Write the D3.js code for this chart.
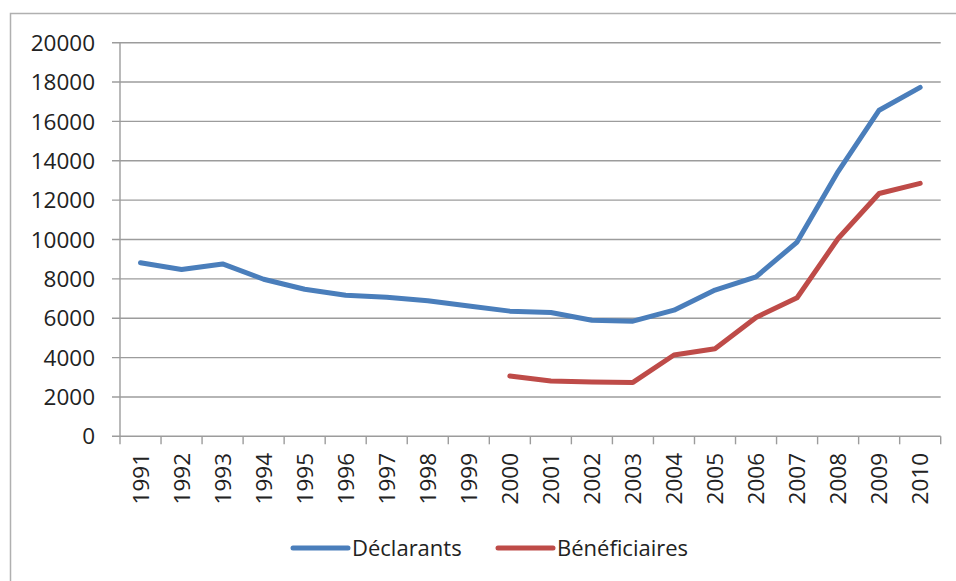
<!DOCTYPE html>
<html>
<head>
<meta charset="utf-8">
<script src="https://cdn.jsdelivr.net/npm/d3@7"></script>
<style>
  html, body { margin: 0; padding: 0; background: #fff; }
  svg { display: block; }
  text { font-family: "Open Sans", "Noto Sans", sans-serif; fill: #222; }
</style>
</head>
<body>
<svg id="chart" width="956" height="581"></svg>
<script>
const years = ["1991","1992","1993","1994","1995","1996","1997","1998","1999","2000",
               "2001","2002","2003","2004","2005","2006","2007","2008","2009","2010"];
const declarants = [8820, 8480, 8760, 7980, 7470, 7170, 7060, 6890, 6620, 6360,
                    6290, 5900, 5850, 6410, 7430, 8100, 9870, 13450, 16570, 17730];
const beneficiaires = [null, null, null, null, null, null, null, null, null, 3060,
                       2810, 2760, 2740, 4130, 4450, 6040, 7040, 10050, 12340, 12850];
const yTicks = [0, 2000, 4000, 6000, 8000, 10000, 12000, 14000, 16000, 18000, 20000];
const seriesNames = ["Déclarants", "Bénéficiaires"];
const seriesColors = ["#4A7EBB", "#BE4B48"];

const svg = d3.select("#chart");
const pLeft = 120, pRight = 940.7, pTop = 42.7, pBottom = 436.3;

// outer chart border (extends beyond the visible area)
svg.append("rect")
  .attr("x", 10.5).attr("y", 13.5)
  .attr("width", 1000).attr("height", 700)
  .attr("fill", "none").attr("stroke", "#b0b0b0").attr("stroke-width", 1.5);

const x = d3.scaleBand().domain(years).range([pLeft, pRight]).padding(0);
const y = d3.scaleLinear().domain([0, 20000]).range([pBottom, pTop]);

// gridlines
svg.append("g")
  .selectAll("line").data(yTicks).join("line")
  .attr("x1", pLeft - 8).attr("x2", pRight)
  .attr("y1", d => y(d)).attr("y2", d => y(d))
  .attr("stroke", "#9c9c9c").attr("stroke-width", 1.4);

// y axis line
svg.append("line")
  .attr("x1", pLeft).attr("x2", pLeft).attr("y1", pTop).attr("y2", pBottom)
  .attr("stroke", "#9c9c9c").attr("stroke-width", 1.4);

// y labels
svg.append("g")
  .selectAll("text").data(yTicks).join("text")
  .attr("x", 95).attr("y", d => y(d))
  .attr("dy", "0.36em")
  .attr("text-anchor", "end")
  .style("font-size", "22.5px")
  .text(d => d);

// x ticks
const tickPos = years.map(d => x(d)).concat([pRight]);
svg.append("g")
  .selectAll("line").data(tickPos).join("line")
  .attr("x1", d => d).attr("x2", d => d)
  .attr("y1", pBottom).attr("y2", pBottom + 8)
  .attr("stroke", "#9c9c9c").attr("stroke-width", 1.4);

// x labels rotated
svg.append("g")
  .selectAll("text").data(years).join("text")
  .attr("transform", d => `translate(${x(d) + x.bandwidth() / 2},453) rotate(-90)`)
  .attr("text-anchor", "end")
  .attr("dy", "0.36em")
  .style("font-size", "22.5px")
  .text(d => d);

// lines
const line = d3.line()
  .defined(d => d.v != null)
  .x(d => x(d.year) + x.bandwidth() / 2)
  .y(d => y(d.v));

[declarants, beneficiaires].forEach((vals, i) => {
  const data = years.map((yr, j) => ({ year: yr, v: vals[j] }));
  svg.append("path")
    .datum(data)
    .attr("d", line)
    .attr("fill", "none")
    .attr("stroke", seriesColors[i])
    .attr("stroke-width", 5)
    .attr("stroke-linejoin", "round")
    .attr("stroke-linecap", "round");
});

// legend
const legendItems = [
  { name: seriesNames[0], color: seriesColors[0], x1: 293, x2: 348, tx: 352 },
  { name: seriesNames[1], color: seriesColors[1], x1: 498, x2: 553, tx: 557 }
];
const lg = svg.append("g");
legendItems.forEach(it => {
  lg.append("line")
    .attr("x1", it.x1).attr("x2", it.x2).attr("y1", 548).attr("y2", 548)
    .attr("stroke", it.color).attr("stroke-width", 5).attr("stroke-linecap", "round");
  lg.append("text")
    .attr("x", it.tx).attr("y", 548).attr("dy", "0.36em")
    .style("font-size", "22px")
    .text(it.name);
});
</script>
</body>
</html>
